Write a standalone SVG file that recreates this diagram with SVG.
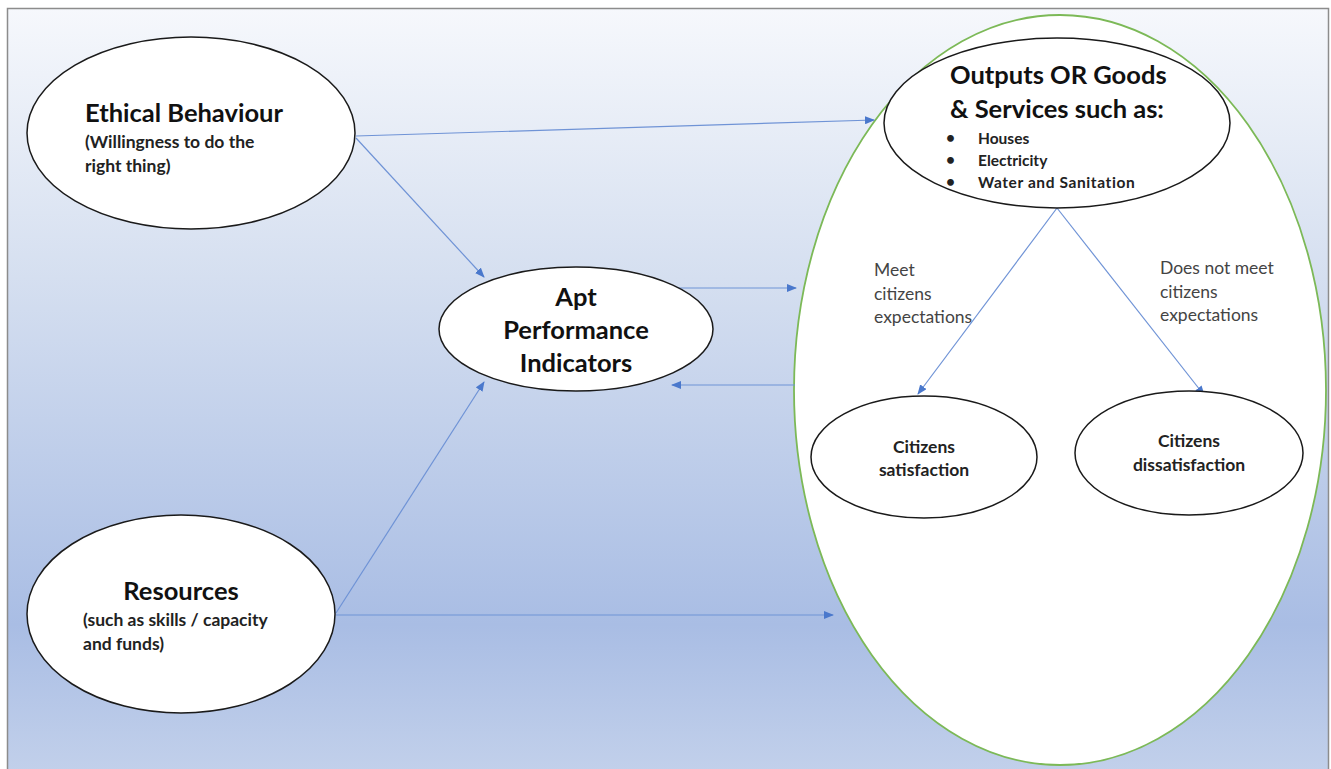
<svg xmlns="http://www.w3.org/2000/svg" width="1331" height="769" viewBox="0 0 1331 769">
<defs>
<linearGradient id="bg" x1="0" y1="0" x2="0" y2="1">
<stop offset="0" stop-color="#f6f8fc"/>
<stop offset="0.35" stop-color="#d5dff0"/>
<stop offset="0.8" stop-color="#a9bde4"/>
<stop offset="1" stop-color="#c3d1eb"/>
</linearGradient>
<marker id="arr" markerWidth="10" markerHeight="8" refX="9" refY="4" orient="auto" markerUnits="userSpaceOnUse">
<path d="M0,0 L10,4 L0,8 z" fill="#4a78cc"/>
</marker>
<style>
.node{fill:#ffffff;stroke:#1a1a1a;stroke-width:1.5}
.conn{stroke:#6f93d6;stroke-width:1.2;fill:none;marker-end:url(#arr)}
.big{font-family:Lato,"Liberation Sans",sans-serif;font-weight:bold;font-size:25.5px;fill:#111}
.sub{font-family:Lato,"Liberation Sans",sans-serif;font-weight:bold;font-size:17.5px;fill:#222}
.bul{font-family:Lato,"Liberation Sans",sans-serif;font-weight:bold;font-size:15.5px;fill:#222}
.lbl{font-family:Lato,"Liberation Sans",sans-serif;font-size:17.5px;fill:#444}
</style>
</defs>
<rect x="7.5" y="8.5" width="1321" height="770" fill="url(#bg)" stroke="#8c8c8c" stroke-width="1.5"/>
<g id="container">
<ellipse cx="1060" cy="390" rx="266" ry="375" fill="#ffffff" stroke="#7cb957" stroke-width="1.8"/>
</g>
<g id="connectors">
<line class="conn" x1="356" y1="136" x2="874" y2="120"/>
<line class="conn" x1="356" y1="138" x2="484" y2="277"/>
<line class="conn" x1="336" y1="613" x2="484" y2="382"/>
<line class="conn" x1="336" y1="615" x2="833" y2="615"/>
<line class="conn" x1="676" y1="288" x2="796" y2="288"/>
<line class="conn" x1="795" y1="385" x2="672" y2="385"/>
<line class="conn" x1="1057" y1="208" x2="918" y2="394"/>
<line class="conn" x1="1057" y1="208" x2="1204" y2="395"/>
</g>
<g id="ethical">
<ellipse class="node" cx="191" cy="133" rx="164" ry="96"/>
<text class="big" x="85" y="122">Ethical Behaviour</text>
<text class="sub" x="85" y="148">(Willingness to do the</text>
<text class="sub" x="85" y="172">right thing)</text>
</g>
<g id="resources">
<ellipse class="node" cx="181" cy="614" rx="154" ry="99"/>
<text class="big" x="181" y="600" text-anchor="middle">Resources</text>
<text class="sub" x="83" y="626">(such as skills / capacity</text>
<text class="sub" x="83" y="650">and funds)</text>
</g>
<g id="apt">
<ellipse class="node" cx="576" cy="329" rx="137" ry="62"/>
<text class="big" x="576" y="306" text-anchor="middle">Apt</text>
<text class="big" x="576" y="339" text-anchor="middle">Performance</text>
<text class="big" x="576" y="372" text-anchor="middle">Indicators</text>
</g>
<g id="outputs">
<ellipse class="node" cx="1057" cy="123" rx="173" ry="85"/>
<text class="big" x="950" y="84">Outputs OR Goods</text>
<text class="big" x="950" y="118">&amp; Services such as:</text>
<text class="bul" x="946" y="143" font-size="9">•</text>
<text class="bul" x="978" y="144">Houses</text>
<text class="bul" x="946" y="165" font-size="9">•</text>
<text class="bul" x="978" y="166">Electricity</text>
<text class="bul" x="946" y="187" font-size="9">•</text>
<text class="bul" x="978" y="188" letter-spacing="0.6">Water and Sanitation</text>
</g>
<g id="labels">
<text class="lbl" x="874" y="276">Meet</text>
<text class="lbl" x="874" y="300">citizens</text>
<text class="lbl" x="874" y="323">expectations</text>
<text class="lbl" x="1160" y="274">Does not meet</text>
<text class="lbl" x="1160" y="298">citizens</text>
<text class="lbl" x="1160" y="321">expectations</text>
</g>
<g id="satisfaction">
<ellipse class="node" cx="924" cy="457" rx="113" ry="61"/>
<text class="sub" x="924" y="453" text-anchor="middle">Citizens</text>
<text class="sub" x="924" y="476" text-anchor="middle">satisfaction</text>
</g>
<g id="dissatisfaction">
<ellipse class="node" cx="1189" cy="453" rx="114" ry="62"/>
<text class="sub" x="1189" y="447" text-anchor="middle">Citizens</text>
<text class="sub" x="1189" y="471" text-anchor="middle">dissatisfaction</text>
</g>
</svg>
